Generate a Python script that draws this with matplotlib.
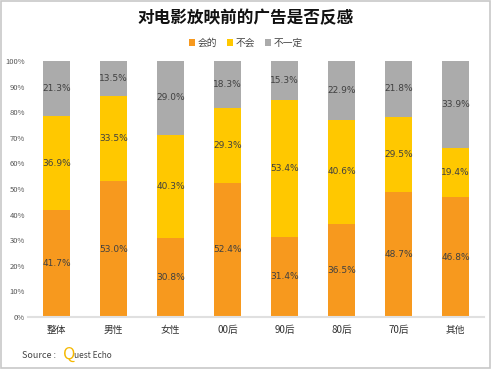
import numpy as np
import matplotlib.pyplot as plt
from matplotlib.patches import Rectangle
import matplotlib.ticker as ticker

plt.rcParams['font.family'] = ['Noto Sans CJK SC', 'DejaVu Sans']

# 数据
categories = ['整体', '男性', '女性', '00后', '90后', '80后', '70后', '其他']
yes_vals = [41.7, 53.0, 30.8, 52.4, 31.4, 36.5, 48.7, 46.8]
no_vals = [36.9, 33.5, 40.3, 29.3, 53.4, 40.6, 29.5, 19.4]
maybe_vals = [21.3, 13.5, 29.0, 18.3, 15.3, 22.9, 21.8, 33.9]
series_names = ['会的', '不会', '不一定']
colors = ['#F7991E', '#FFC800', '#ABABAB']

fig = plt.figure(figsize=(4.92, 3.69), dpi=100)
ax = fig.add_axes([28 / 492, 1 - 317 / 369, 456 / 492, 256 / 369])

x = np.arange(len(categories))
bottom = np.zeros(len(categories))
for vals, name, c in zip([yes_vals, no_vals, maybe_vals], series_names, colors):
    vals = np.array(vals)
    ax.bar(x, vals, width=0.49, bottom=bottom, color=c, label=name, zorder=2)
    for xi, b, v in zip(x, bottom, vals):
        ax.text(xi, b + v / 2, f'{v:.1f}%', ha='center', va='center',
                fontsize=6.5, color='#404040', family='DejaVu Sans')
    bottom += vals

ax.set_xlim(-0.5, len(categories) - 0.5)
ax.set_ylim(0, 100)
ax.yaxis.set_major_locator(ticker.MultipleLocator(10))
ax.yaxis.set_major_formatter(ticker.FuncFormatter(lambda v, _: f'{int(v)}%'))
ax.set_xticks(x)
ax.set_xticklabels(categories, fontsize=7, color='#333333')
ax.tick_params(axis='y', labelsize=5.5, labelcolor='#555555', length=0, pad=2)
ax.tick_params(axis='x', length=0, pad=6)
for s in ['top', 'right', 'left']:
    ax.spines[s].set_visible(False)
ax.spines['bottom'].set_color('#E0E0E0')
ax.spines['bottom'].set_linewidth(1.5)

fig.text(0.5, 1 - 18 / 369, '对电影放映前的广告是否反感', ha='center', va='center',
         fontsize=12, fontweight='bold', color='#111111')
fig.legend(loc='center', bbox_to_anchor=(0.5, 1 - 43 / 369), ncol=3, frameon=False,
           fontsize=7, handlelength=0.6, handleheight=0.6, handletextpad=0.3,
           columnspacing=1.0, labelcolor='#444444')

# Source
fig.text(22 / 492, 1 - 356 / 369, 'Source :', fontsize=6.5, color='#444444', va='center')
fig.text(63 / 492, 1 - 354 / 369, 'Q', fontsize=12, color='#F5B800', va='center')
fig.text(74 / 492, 1 - 356 / 369, 'uest Echo', fontsize=6, color='#444444', va='center')

# 外框
fig.patches.append(Rectangle((0.002, 0.003), 0.994, 0.994, transform=fig.transFigure,
                             fill=False, edgecolor='#C8C8C8', linewidth=1.2))

fig.savefig('out.png', dpi=100)
